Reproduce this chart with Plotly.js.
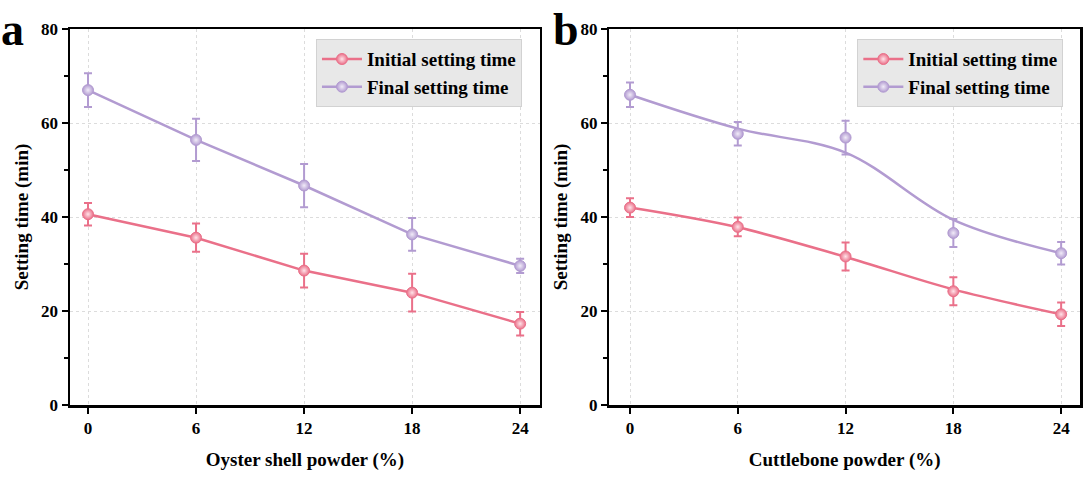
<!DOCTYPE html>
<html>
<head>
<meta charset="utf-8">
<script src="https://cdn.plot.ly/plotly-3.0.1.min.js"></script>
<style>html,body{margin:0;padding:0;background:#fff;}#chart{width:1090px;height:477px;}</style>
</head>
<body>
<div id="chart"></div>
<script>
// ---- data ----
const xVals = [0, 6, 12, 18, 24];
const xTickLabels = ['0', '6', '12', '18', '24'];
const yTickVals = [0, 20, 40, 60, 80];
const yMinorVals = [10, 30, 50, 70];
const seriesNames = ['Initial setting time', 'Final setting time'];

// Panel a: oyster shell powder
const initialA = [40.6, 35.6, 28.6, 23.9, 17.3];
const initialAErr = [2.4, 3.0, 3.6, 4.0, 2.5];
const finalA = [67.0, 56.4, 46.7, 36.3, 29.6];
const finalAErr = [3.6, 4.5, 4.6, 3.5, 1.5];

// Panel b: cuttlebone powder
const initialB = [42.0, 37.9, 31.6, 24.2, 19.3];
const initialBErr = [2.0, 2.0, 3.0, 3.0, 2.5];
const finalB = [66.0, 57.7, 56.9, 36.6, 32.3];
const finalBErr = [2.6, 2.5, 3.6, 3.0, 2.4];
// fitted (smoothed) curves drawn in panel b
const initialBFit = [42.0, 37.8, 31.5, 24.6, 19.3];
const finalBFit = [66.0, 58.8, 53.7, 39.4, 32.3];

const xTitleA = 'Oyster shell powder (%)';
const xTitleB = 'Cuttlebone powder (%)';
const yTitle = 'Setting time (min)';

// ---- styles ----
const pink = '#EA7089';
const pinkLight = '#FFE3E9';
const purple = '#B29BD1';
const purpleLight = '#F1EBF8';
const serif = 'Liberation Serif, Times New Roman, serif';

function markerStyle(c, light) {
  return {symbol: 'circle', size: 11, color: c, line: {color: c, width: 1},
          gradient: {type: 'radial', color: light}};
}
function errStyle(arr, c) {
  return {type: 'data', array: arr, visible: true, color: c, thickness: 2, width: 4};
}

const traces = [
  // panel a
  {x: xVals, y: initialA, name: seriesNames[0], mode: 'lines+markers', xaxis: 'x', yaxis: 'y',
   line: {color: pink, width: 2.5}, marker: markerStyle(pink, pinkLight),
   error_y: errStyle(initialAErr, pink), legend: 'legend'},
  {x: xVals, y: finalA, name: seriesNames[1], mode: 'lines+markers', xaxis: 'x', yaxis: 'y',
   line: {color: purple, width: 2.5}, marker: markerStyle(purple, purpleLight),
   error_y: errStyle(finalAErr, purple), legend: 'legend'},
  // panel b fitted curves
  {x: xVals, y: initialBFit, mode: 'lines', xaxis: 'x2', yaxis: 'y2', showlegend: false,
   line: {color: pink, width: 2.5, shape: 'spline', smoothing: 1}, hoverinfo: 'skip'},
  {x: xVals, y: finalBFit, mode: 'lines', xaxis: 'x2', yaxis: 'y2', showlegend: false,
   line: {color: purple, width: 2.5, shape: 'spline', smoothing: 1}, hoverinfo: 'skip'},
  // panel b measured points
  {x: xVals, y: initialB, name: seriesNames[0], mode: 'markers', xaxis: 'x2', yaxis: 'y2', showlegend: false,
   marker: markerStyle(pink, pinkLight), error_y: errStyle(initialBErr, pink)},
  {x: xVals, y: finalB, name: seriesNames[1], mode: 'markers', xaxis: 'x2', yaxis: 'y2', showlegend: false,
   marker: markerStyle(purple, purpleLight), error_y: errStyle(finalBErr, purple)},
  // panel b legend entries
  {x: [null], y: [null], name: seriesNames[0], mode: 'lines+markers', xaxis: 'x2', yaxis: 'y2',
   line: {color: pink, width: 2.5}, marker: markerStyle(pink, pinkLight), legend: 'legend2'},
  {x: [null], y: [null], name: seriesNames[1], mode: 'lines+markers', xaxis: 'x2', yaxis: 'y2',
   line: {color: purple, width: 2.5}, marker: markerStyle(purple, purpleLight), legend: 'legend2'}
];

const tickFont = {family: serif, size: 17, color: '#000', weight: 'bold'};
const titleFont = {family: serif, size: 19, color: '#000', weight: 'bold'};

function xAxis(domain, range, title, anchor) {
  return {domain: domain, range: range, anchor: anchor, tickmode: 'array', tickvals: xVals, ticktext: xTickLabels,
          ticks: 'outside', ticklen: 6, tickwidth: 2, tickcolor: '#000',
          showline: true, linecolor: '#000', linewidth: 2.5, mirror: true,
          showgrid: true, gridcolor: '#dcdcdc', griddash: 'dot', gridwidth: 1, zeroline: false,
          tickfont: tickFont, title: {text: title, font: titleFont, standoff: 16}};
}
function yAxis(anchor) {
  return {range: [0, 80], anchor: anchor, tickmode: 'array', tickvals: yTickVals,
          ticks: 'outside', ticklen: 6, tickwidth: 2, tickcolor: '#000',
          minor: {tickvals: yMinorVals, ticks: 'outside', ticklen: 4, tickwidth: 2, tickcolor: '#000', showgrid: false},
          showline: true, linecolor: '#000', linewidth: 2.5, mirror: true,
          showgrid: true, gridcolor: '#dcdcdc', griddash: 'dot', gridwidth: 1, zeroline: false,
          tickfont: tickFont, title: {text: yTitle, font: titleFont, standoff: 8}};
}
const legendStyle = {font: {family: serif, size: 19, color: '#000', weight: 'bold'},
                     bgcolor: '#E8E8E8', bordercolor: '#D2D2D2', borderwidth: 1,
                     xanchor: 'right', yanchor: 'top', tracegroupgap: 0, itemwidth: 40};

const layout = {
  width: 1090, height: 477,
  margin: {l: 70, r: 10, t: 29, b: 72},
  paper_bgcolor: '#fff', plot_bgcolor: '#fff',
  showlegend: true,
  xaxis: xAxis([0, 0.4653], [-1.0, 25.1], xTitleA, 'y'),
  yaxis: yAxis('x'),
  xaxis2: xAxis([0.534, 1], [-1.15, 25.05], xTitleB, 'y2'),
  yaxis2: yAxis('x2'),
  legend: Object.assign({x: 0.4475, y: 0.973}, legendStyle),
  legend2: Object.assign({x: 0.9835, y: 0.973}, legendStyle),
  annotations: [
    {text: 'a', xref: 'paper', yref: 'paper', x: -0.057, y: 1.0, xanchor: 'center', yanchor: 'middle',
     showarrow: false, font: {family: serif, size: 46, color: '#000', weight: 'bold'}},
    {text: 'b', xref: 'paper', yref: 'paper', x: 0.491, y: 1.0, xanchor: 'center', yanchor: 'middle',
     showarrow: false, font: {family: serif, size: 46, color: '#000', weight: 'bold'}}
  ]
};

Plotly.newPlot('chart', traces, layout, {displayModeBar: false, staticPlot: true});
</script>
</body>
</html>
